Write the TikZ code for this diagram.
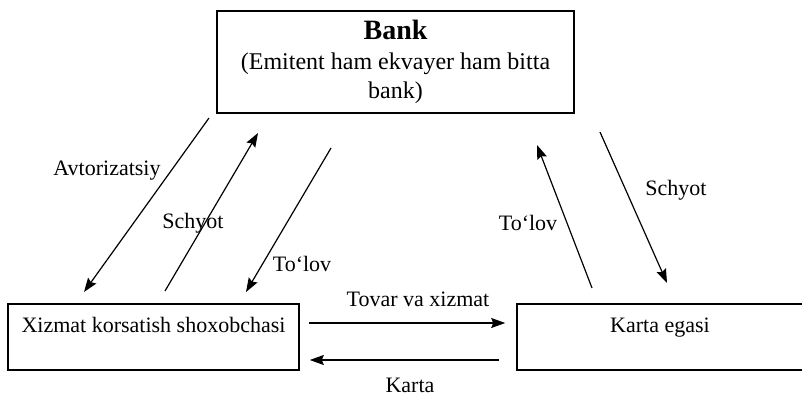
\documentclass[tikz,border=0pt]{standalone}
\usepackage{fontspec}
\setmainfont{Liberation Serif}
\usetikzlibrary{arrows.meta}

\begin{document}
\begin{tikzpicture}[x=0.75pt, y=-0.75pt]

    \tikzset{
        process/.style = {rectangle, draw=black, line width=1.2pt, text centered, inner sep=0pt},
        lowbox/.style = {process, minimum height=49.5pt, text height=12pt, text depth=19.5pt, font=\fontsize{16.5}{19}\selectfont},
        arrow/.style = {line width=0.9pt, -{Stealth[length=10.5pt, width=7.5pt, inset=1.5pt]}},
        tag/.style = {font=\fontsize{16.5}{19}\selectfont, inner sep=0pt}
    }

    \useasboundingbox (0,0) rectangle (802,396);

    \node (bank) [process, minimum width=267.75pt, minimum height=76.5pt, align=center, font=\fontsize{18}{22}\selectfont] at (395.5,62)
        {{\fontsize{21}{22}\selectfont\bfseries Bank}\\(Emitent ham ekvayer ham bitta\\bank)};
    \node (shop) [lowbox, minimum width=218.25pt] at (153.5,337) {Xizmat korsatish shoxobchasi};
    \node (holder) [lowbox, minimum width=214.5pt] at (660,337) {Karta egasi};

    % free ends of the slanted arrows
    \coordinate (authtop) at (209,118);
    \coordinate (authbot) at (84,292);
    \coordinate (billlbot) at (165,291);
    \coordinate (billltop) at (258,133);
    \coordinate (payltop) at (331,148);
    \coordinate (paylbot) at (246,292);
    \coordinate (payrbot) at (592,288);
    \coordinate (payrtop) at (537,145);
    \coordinate (billrtop) at (600,132);
    \coordinate (billrbot) at (667,283);

    \node (auth) [tag] at (107,171) {Avtorizatsiy};
    \node (billl) [tag] at (193,223) {Schyot};
    \node (payl) [tag] at (302,264) {To‘lov};
    \node (payr) [tag] at (528,223) {To‘lov};
    \node (billr) [tag] at (676,190) {Schyot};
    \node (goods) [tag] at (418,299) {Tovar va xizmat};
    \node (card) [tag] at (410,385) {Karta};

    \draw [arrow] (authtop) -- (authbot);
    \draw [arrow] (billlbot) -- (billltop);
    \draw [arrow] (payltop) -- (paylbot);
    \draw [arrow] (payrbot) -- (payrtop);
    \draw [arrow] (billrtop) -- (billrbot);
    \draw [arrow, shorten <=6.75pt, shorten >=8.25pt] ([yshift=10.5pt]shop.east) -- ([yshift=10.5pt]holder.west);
    \draw [arrow, shorten <=12.75pt, shorten >=7.5pt] ([yshift=-17.25pt]holder.west) -- ([yshift=-17.25pt]shop.east);
\end{tikzpicture}
\end{document}
